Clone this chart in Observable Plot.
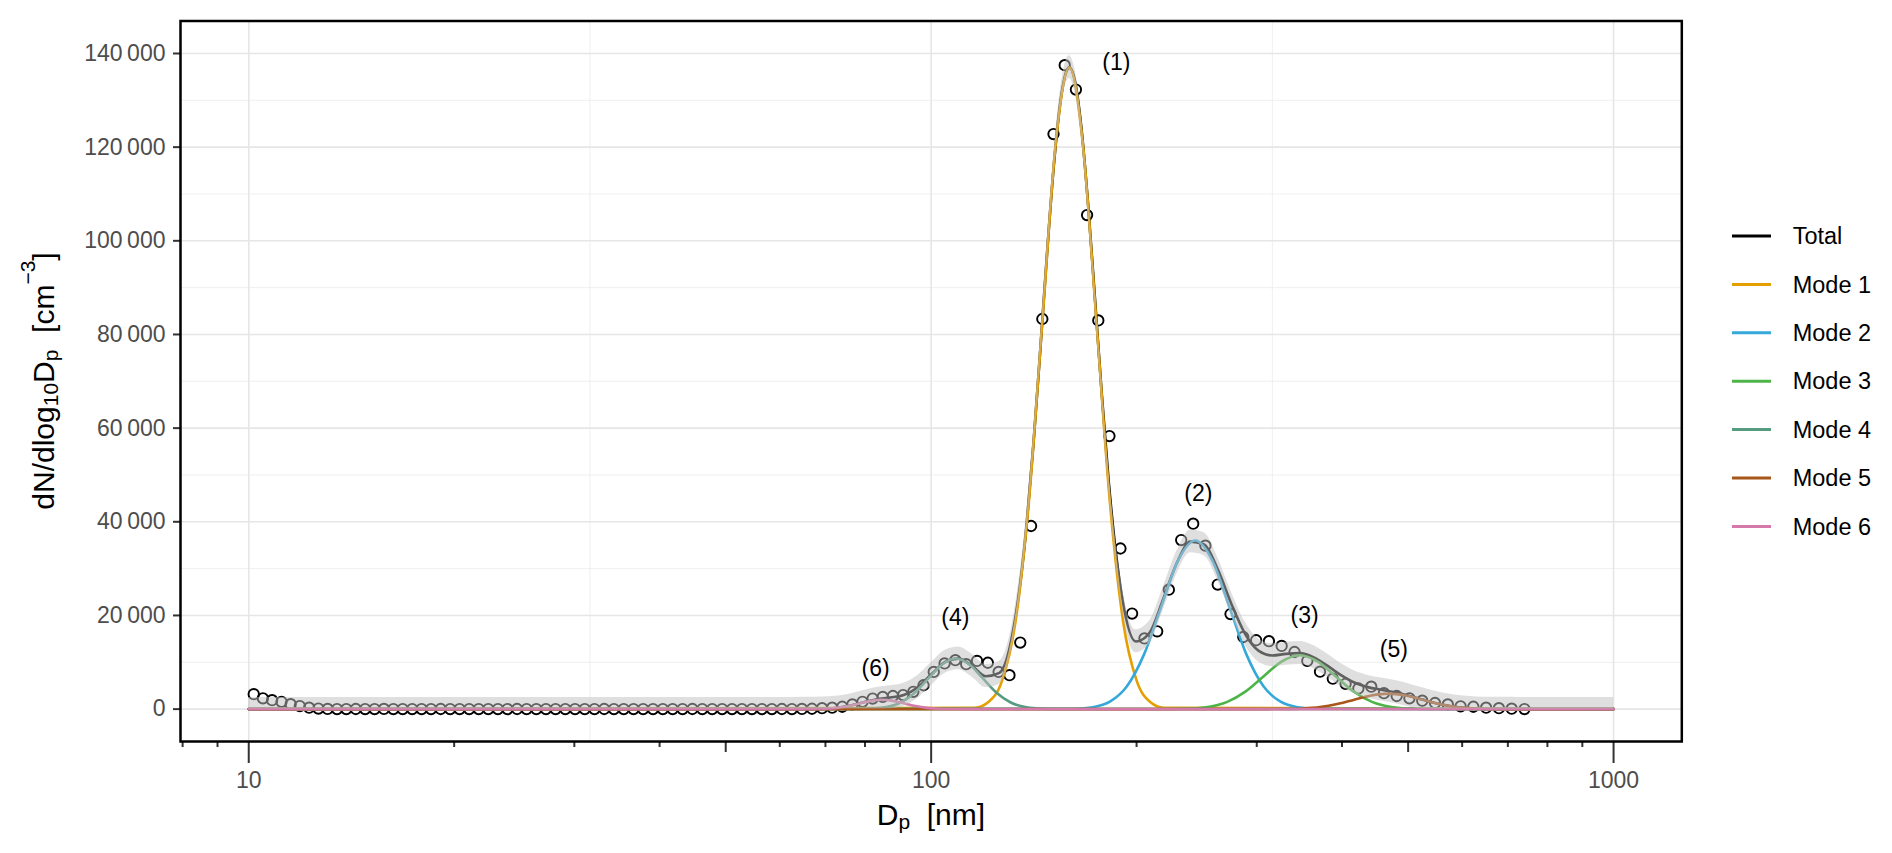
<!DOCTYPE html>
<html>
<head>
<meta charset="utf-8">
<script src="https://cdn.jsdelivr.net/npm/d3@7"></script>
<script src="https://cdn.jsdelivr.net/npm/@observablehq/plot@0.6"></script>
<style>
html, body { margin: 0; padding: 0; background: #fff; overflow: hidden; }
#chart { width: 1892px; height: 853px; }
</style>
</head>
<body>
<div id="chart"></div>
<script>
// ---------- measured points (diameter nm, dN/dlogDp) ----------
const pointDp = [
  10.17, 10.49, 10.82, 11.17, 11.52, 11.88, 12.26, 12.65, 13.05, 13.47,
  13.90, 14.35, 14.81, 15.29, 15.78, 16.29, 16.81, 17.36, 17.92, 18.50,
  19.11, 19.73, 20.37, 21.04, 21.73, 22.44, 23.18, 23.94, 24.73, 25.54,
  26.39, 27.26, 28.16, 29.10, 30.07, 31.07, 32.11, 33.18, 34.29, 35.44,
  36.63, 37.84, 39.12, 40.44, 41.80, 43.22, 44.68, 46.20, 47.77, 49.40,
  51.08, 52.82, 54.63, 56.50, 58.43, 60.44, 62.52, 64.67, 66.90, 69.21,
  71.61, 74.09, 76.66, 79.32, 82.08, 84.94, 87.90, 90.97, 94.16, 97.46,
  100.88, 104.64, 108.52, 112.56, 116.74, 121.08, 125.57, 130.24, 135.08, 140.10,
  145.52, 151.11, 156.94, 162.98, 169.24, 175.77, 182.50,
  189.4, 197.0, 205.4, 214.4, 223.0, 232.5, 242.1, 252.3, 263.0,
  274.6, 286.7, 299.4, 312.6, 326.3, 340.8, 355.8, 371.4, 387.8, 404.9,
  422.7, 441.5, 460.8, 481.1, 502.2, 524.4, 547.5, 571.6, 596.8, 623.1,
  650.5, 679.2, 709.1, 740.4
];
const pointN = [
  3200, 2300, 1900, 1550, 1050, 650, 300, 120, 40, 0,
  0, 20, 0, 0, 30, 0, 0, 10, 0, 0,
  20, 0, 0, 0, 10, 0, 0, 0, 20, 0,
  0, 0, 10, 0, 0, 0, 0, 20, 0, 0,
  0, 10, 0, 0, 0, 0, 20, 0, 0, 0,
  10, 0, 0, 0, 0, 20, 0, 40, 80, 200,
  300, 500, 1000, 1550, 2250, 2600, 2800, 3000, 3700, 5100,
  7950, 9750, 10450, 9600, 10300, 9900, 7950, 7250, 14200, 39100,
  83300, 122800, 137500, 132300, 105500, 83000, 58300,
  34300, 20400, 15100, 16600, 25500, 36100, 39600, 34900, 26600,
  20300, 15400, 14700, 14500, 13500, 12200, 10300, 8000, 6500, 5400,
  4400, 4800, 3400, 2800, 2300, 1800, 1300, 1000, 600, 500,
  300, 200, 100, 0
];

// ---------- fitted total and its uncertainty band ----------
const totalDp = [
  10, 63.10, 66.07, 69.18, 72.44, 75.86, 79.43, 83.18, 87.10, 91.20,
  95.50, 100.0, 104.71, 109.65, 114.82, 120.23, 125.89, 131.83, 138.04, 141.25,
  144.54, 147.91, 151.36, 154.88, 158.49, 159.40, 162.18, 165.96, 169.82, 173.78,
  177.83, 181.97, 190.55, 199.53, 208.93, 218.78, 229.09, 239.88, 251.19, 263.03,
  275.42, 288.40, 301.99, 316.23, 331.13, 346.74, 363.08, 380.19, 398.11, 416.87,
  436.52, 457.09, 478.63, 501.19, 524.81, 549.54, 575.44, 602.56, 630.96, 660.69,
  691.83, 724.44, 758.58, 794.33, 1000
];
const totalN = [
  0, 1, 9, 57, 240, 699, 1428, 2103, 2478, 3026,
  4631, 7389, 10014, 10781, 9225, 7016, 7730, 16658, 39550, 56822,
  76878, 97705, 116515, 130336, 136761, 137040, 134620, 124340, 107778, 87774,
  67329, 48914, 23635, 14434, 16313, 23473, 31199, 35774, 35156, 29842,
  22466, 16079, 12444, 11461, 11794, 11945, 11093, 9324, 7301, 5682,
  4695, 4122, 3586, 2877, 2037, 1247, 655, 293, 112, 37,
  10, 2, 0, 0, 0
];
const bandHigh = [
  2500, 2500, 2510, 2560, 2740, 3200, 3930, 4600, 4980, 5530,
  7130, 9890, 12510, 13280, 11730, 9520, 10230, 19160, 42050, 59320,
  79380, 100200, 119020, 132840, 139260, 139540, 137120, 126840, 110280, 90270,
  69830, 51410, 26140, 16930, 18810, 25970, 33700, 38270, 37660, 32340,
  24970, 18580, 14940, 13960, 14290, 14450, 13590, 11820, 9800, 8180,
  7200, 6620, 6090, 5380, 4540, 3750, 3160, 2790, 2610, 2540,
  2510, 2500, 2500, 2500, 2500
];
const bandLow = [
  0, 0, 0, 0, 0, 0, 0, 0, 80, 630,
  2230, 4990, 7610, 8380, 6830, 4620, 5330, 14260, 37150, 54420,
  74480, 95300, 114120, 127940, 134360, 134640, 132220, 121940, 105380, 85370,
  64930, 46510, 21240, 12030, 13910, 21070, 28800, 33370, 32760, 27440,
  20070, 13680, 10040, 9060, 9390, 9550, 8690, 6920, 4900, 3280,
  2300, 1720, 1190, 480, 0, 0, 0, 0, 0, 0,
  0, 0, 0, 0, 0
];

// ---------- fitted modes ----------
const mode1Dp = [10, 115.9, 121.3, 127.0, 132.9, 139.1, 145.6, 152.3, 159.4, 166.8, 174.6, 182.7, 191.2, 200.1, 209.4, 219.2, 1000];
const mode1N  = [0, 300, 1521, 6014, 18536, 44484, 83091, 120903, 137000, 120903, 83091, 44484, 18536, 6014, 1521, 300, 0];
const mode2Dp = [10, 162.9, 172.6, 182.8, 193.6, 205.1, 217.3, 230.1, 243.8, 258.2, 273.5, 289.7, 306.9, 325.1, 344.3, 364.8, 1000];
const mode2N  = [0, 79, 400, 1580, 4871, 11689, 21834, 31770, 36000, 31770, 21834, 11689, 4871, 1580, 400, 79, 0];
const mode3Dp = [10, 226.2, 240.4, 255.6, 271.6, 288.7, 306.9, 326.2, 346.7, 368.6, 391.7, 416.4, 442.6, 470.4, 500.0, 531.5, 1000];
const mode3N  = [0, 25, 128, 505, 1556, 3734, 6975, 10149, 11500, 10149, 6975, 3734, 1556, 505, 128, 25, 0];
const mode4Dp = [10, 78.7, 82.4, 86.3, 90.4, 94.6, 99.1, 103.8, 108.6, 113.8, 119.1, 124.7, 130.6, 136.8, 143.2, 150.0, 1000];
const mode4N  = [0, 24, 120, 474, 1461, 3507, 6550, 9531, 10800, 9531, 6550, 3507, 1461, 474, 120, 24, 0];
const mode5Dp = [10, 312.6, 331.1, 350.8, 371.5, 393.6, 416.9, 441.6, 467.7, 495.5, 524.8, 555.9, 588.8, 623.7, 660.7, 699.8, 1000];
const mode5N  = [0, 7, 37, 145, 446, 1072, 2001, 2912, 3300, 2912, 2001, 1072, 446, 145, 37, 7, 0];
const mode6Dp = [10, 64.9, 67.4, 70.1, 72.8, 75.6, 78.5, 81.6, 84.7, 88.0, 91.4, 94.9, 98.6, 102.4, 106.4, 110.5, 1000];
const mode6N  = [0, 4, 22, 88, 271, 649, 1213, 1765, 2000, 1765, 1213, 649, 271, 88, 22, 4, 0];

const seriesNames  = ["Total", "Mode 1", "Mode 2", "Mode 3", "Mode 4", "Mode 5", "Mode 6"];
const seriesColors = ["#000000", "#E69F00", "#35A8DA", "#4DB548", "#559C81", "#A9561A", "#D479A9"];

// ---------- peak annotations ----------
const peakText = ["(1)", "(2)", "(3)", "(4)", "(5)", "(6)"];
const peakDp   = [186.8, 246.3, 352.6, 108.5, 476.5, 82.9];
const peakN    = [138000, 46000, 19900, 19600, 12650, 8600];

// ---------- ticks ----------
const yTicks = [0, 20000, 40000, 60000, 80000, 100000, 120000, 140000];
const yMinorGrid = [10000, 30000, 50000, 70000, 90000, 110000, 130000];
const xMajor = [10, 100, 1000];
const xMid = [50, 500];
const xMinorTicks = [8, 9, 20, 30, 40, 60, 70, 80, 90, 200, 300, 400, 600, 700, 800, 900];
const xMinorGrid = [31.62, 316.2];

// ---------- tables ----------
const points = pointDp.map((dp, i) => ({dp, n: pointN[i]}));
const totalRows = totalDp.map((dp, i) => ({dp, n: totalN[i], lo: bandLow[i], hi: bandHigh[i], name: "Total"}));
const modeSeries = [[mode1Dp, mode1N], [mode2Dp, mode2N], [mode3Dp, mode3N], [mode4Dp, mode4N], [mode5Dp, mode5N], [mode6Dp, mode6N]];
const modeRows = modeSeries.flatMap(([dps, ns], k) => dps.map((dp, i) => ({dp, n: ns[i], name: seriesNames[k + 1]})));
const labelRows = peakText.map((t, i) => ({t, dp: peakDp[i], n: peakN[i]}));

const fmt = d => d3.format(",")(d).replace(/,/g, "\u2009");
const tickColor = "#333333";
const textColor = "#4D4D4D";

const plot = Plot.plot({
  width: 1892,
  height: 853,
  marginLeft: 180,
  marginRight: 210.7,
  marginTop: 20.5,
  marginBottom: 112,
  x: {type: "log", domain: [Math.pow(10, 0.9), Math.pow(10, 3.1)]},
  y: {domain: [-6916, 146937]},
  color: {domain: seriesNames, range: seriesColors},
  style: {fontFamily: "'Liberation Sans', Arial, Helvetica, sans-serif", background: "#ffffff"},
  marks: [
    Plot.gridY(yMinorGrid, {stroke: "#EBEBEB", strokeOpacity: 1, strokeWidth: 0.8}),
    Plot.gridX(xMinorGrid, {stroke: "#EBEBEB", strokeOpacity: 1, strokeWidth: 0.8}),
    Plot.gridY(yTicks, {stroke: "#E6E6E6", strokeOpacity: 1, strokeWidth: 1.6}),
    Plot.gridX(xMajor, {stroke: "#E6E6E6", strokeOpacity: 1, strokeWidth: 1.6}),
    Plot.dot(points, {x: "dp", y: "n", r: 5.2, stroke: "black", strokeWidth: 1.9, fill: "none"}),
    Plot.line(totalRows, {x: "dp", y: "n", stroke: "name", strokeWidth: 2.6, curve: "monotone-x"}),
    Plot.line(modeRows, {x: "dp", y: "n", z: "name", stroke: "name", strokeWidth: 2.6, curve: "monotone-x"}),
    Plot.areaY(totalRows, {x: "dp", y1: "lo", y2: "hi", fill: "#BFBFBF", fillOpacity: 0.5, curve: "monotone-x"}),
    Plot.text(labelRows, {x: "dp", y: "n", text: "t", fontSize: 23, fill: "black"}),
    Plot.axisY(yTicks, {tickSize: 7, tickPadding: 8, tickFormat: fmt, fontSize: 23, fill: textColor, stroke: tickColor, strokeWidth: 2, label: null}),
    Plot.axisX(xMajor, {tickSize: 22, tickPadding: 8.5, tickFormat: d => String(d), fontSize: 23, fill: textColor, stroke: tickColor, strokeWidth: 2, label: null}),
    Plot.axisX(xMid, {tickSize: 11, tickFormat: () => "", stroke: tickColor, strokeWidth: 2, label: null}),
    Plot.axisX(xMinorTicks, {tickSize: 6, tickFormat: () => "", stroke: tickColor, strokeWidth: 2, label: null}),
    Plot.frame({stroke: "black", strokeWidth: 2.5})
  ]
});

document.getElementById("chart").appendChild(plot);
const svg = d3.select(plot);

// y axis title
const yt = svg.append("text")
  .attr("transform", "translate(54,381) rotate(-90)")
  .attr("text-anchor", "middle")
  .attr("font-size", 30)
  .attr("fill", "black");
yt.append("tspan").text("dN/dlog");
yt.append("tspan").attr("font-size", 21).attr("dy", 4).text("10");
yt.append("tspan").attr("dy", -4).text("D");
yt.append("tspan").attr("font-size", 21).attr("dy", 4).text("p");
yt.append("tspan").attr("dy", -4).text("\u00a0\u00a0[cm");
yt.append("tspan").attr("font-size", 21).attr("dy", -19).text("\u22123");
yt.append("tspan").attr("dy", 19).text("]");

// x axis title
const xt = svg.append("text")
  .attr("x", 930.9)
  .attr("y", 825)
  .attr("text-anchor", "middle")
  .attr("font-size", 30)
  .attr("fill", "black");
xt.append("tspan").text("D");
xt.append("tspan").attr("font-size", 21).attr("dy", 4).text("p");
xt.append("tspan").attr("dy", -4).text("\u00a0\u00a0[nm]");

// legend
const legend = svg.append("g").attr("text-anchor", "start");
seriesNames.forEach((name, i) => {
  const y = 236 + 48.4 * i;
  legend.append("line")
    .attr("x1", 1732).attr("x2", 1771).attr("y1", y).attr("y2", y)
    .attr("stroke", seriesColors[i]).attr("stroke-width", 3);
  legend.append("text")
    .attr("x", 1792.7).attr("y", y).attr("dy", "0.35em")
    .attr("text-anchor", "start")
    .attr("font-size", 23.5).attr("fill", "black")
    .text(name);
});
</script>
</body>
</html>
